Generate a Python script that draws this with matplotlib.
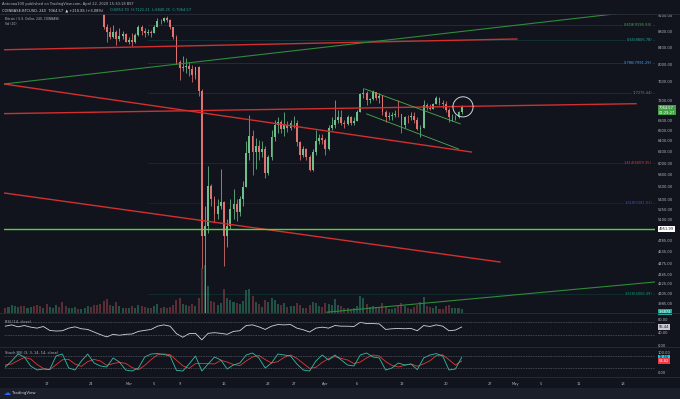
import matplotlib
matplotlib.use("Agg")
import matplotlib.pyplot as plt
import matplotlib.dates as mdates
from matplotlib.ticker import FixedLocator, NullLocator, FuncFormatter
import numpy as np
import pandas as pd

# ── Colours ───────────────────────────────────────────────────────────────────
BG = "#11141c"
STRIP = "#1b1f2a"
BORDER = "#2a2e39"
TXT = "#b2b5be"
UP = "#6dbf8b"
DOWN = "#e0736f"
RED = "#d32f2f"
GREEN_DARK = "#2e8b3a"
GREEN = "#4caf50"
TEAL = "#26a69a"

W, H = 680, 399

# ── 12h candles from 2020-02-10 12:00 (COINBASE BTCUSD) ──────────────────────
CANDLE_START = "2020-02-10 12:00"
OPEN0 = 10000
HIGH = [10050, 10000, 10300, 10400, 10450, 10500, 10400, 10350, 10400, 10380,
        10200, 10050, 10050, 9950, 9800, 9800, 10250, 10250, 10170, 9700,
        9650, 9700, 9800, 9720, 9700, 9800, 10000, 10000, 9850, 9680,
        9500, 9320, 8980, 8900, 8970, 8830, 8890, 8800, 8760, 8650,
        8750, 8750, 8950, 8970, 8880, 8850, 8820, 8950, 9150, 9130,
        9180, 9200, 9120, 8920, 8700, 8100, 8180, 8150, 8050, 7970,
        7940, 7960, 7450, 5300, 5950, 5650, 5450, 5400, 5900, 5380,
        5100, 5400, 5560, 5400, 5450, 5700, 6400, 6900, 6600, 6450,
        6420, 6400, 6300, 6150, 6600, 6800, 6850, 6800, 6950, 6780,
        6800, 6880, 6800, 6400, 6300, 6270, 6150, 6250, 6600, 6520,
        6520, 6450, 6700, 6850, 7200, 7000, 7000, 6800, 6900, 6880,
        6850, 7000, 7360, 7470, 7400, 7250, 7420, 7380, 7350, 7320,
        7000, 6950, 6950, 7000, 7200, 6910, 6870, 6900, 6950, 6950,
        6850, 6700, 7200, 7150, 7120, 7150, 7300, 7260, 7200, 7180,
        7050, 6920, 6900, 6980, 7101]
LOW = [9800, 9750, 9900, 10200, 10250, 10150, 10100, 10150, 10250, 10100,
       9850, 9650, 9800, 9450, 9500, 9600, 9700, 10050, 9400, 9450,
       9450, 9550, 9600, 9580, 9600, 9650, 9720, 9750, 9550, 9450,
       9250, 8850, 8530, 8600, 8620, 8450, 8560, 8600, 8520, 8470,
       8420, 8500, 8680, 8700, 8650, 8700, 8660, 8755, 8900, 9000,
       9030, 9050, 8850, 8600, 8000, 7640, 7850, 7800, 7730, 7600,
       7650, 7300, 4420, 3860, 4900, 5300, 5050, 5100, 5250, 4450,
       4700, 4950, 5100, 5070, 5150, 5300, 5600, 6050, 5800, 5900,
       6050, 6100, 5750, 5800, 6050, 6400, 6550, 6550, 6500, 6560,
       6600, 6650, 6300, 6050, 6100, 6050, 5860, 5870, 6150, 6350,
       6350, 6150, 6230, 6600, 6650, 6750, 6700, 6650, 6700, 6700,
       6700, 6780, 6950, 7250, 7100, 7150, 7200, 7200, 7150, 6900,
       6770, 6800, 6800, 6850, 6850, 6550, 6650, 6750, 6800, 6750,
       6600, 6470, 6640, 7000, 7000, 7020, 7120, 7100, 7050, 6950,
       6760, 6780, 6800, 6840, 6920]
CLOSE = [9850, 9950, 10270, 10320, 10350, 10300, 10240, 10280, 10370, 10150,
         9900, 9850, 9930, 9600, 9700, 9750, 10180, 10150, 9600, 9550,
         9600, 9650, 9690, 9650, 9670, 9750, 9970, 9800, 9660, 9500,
         9310, 8900, 8780, 8650, 8790, 8600, 8690, 8720, 8530, 8580,
         8520, 8700, 8915, 8800, 8760, 8790, 8755, 8920, 9070, 9060,
         9150, 9100, 8900, 8650, 8040, 7900, 7935, 7950, 7890, 7750,
         7935, 7400, 4860, 5000, 5620, 5400, 5170, 5300, 5360, 4850,
         5000, 5250, 5330, 5200, 5400, 5600, 6180, 6500, 6200, 6300,
         6190, 6250, 5830, 6100, 6480, 6700, 6770, 6620, 6700, 6650,
         6740, 6750, 6370, 6150, 6250, 6100, 5880, 6200, 6400, 6450,
         6420, 6250, 6640, 6700, 6800, 6850, 6740, 6730, 6860, 6750,
         6780, 6950, 7340, 7350, 7200, 7230, 7370, 7250, 7300, 6950,
         6860, 6880, 6890, 6920, 6910, 6700, 6860, 6850, 6870, 6800,
         6620, 6650, 7110, 7050, 7030, 7130, 7250, 7150, 7130, 7000,
         6850, 6850, 6850, 6950, 7064.57]
VOLUME = [9, 10, 14, 11, 10, 12, 11, 9, 10, 12,
          14, 11, 9, 15, 10, 9, 14, 10, 18, 12,
          9, 8, 10, 7, 6, 8, 11, 10, 14, 13,
          15, 20, 24, 14, 12, 18, 12, 8, 9, 9,
          11, 9, 14, 12, 10, 8, 8, 11, 15, 9,
          10, 8, 10, 14, 22, 25, 15, 14, 12, 15,
          12, 25, 75, 80, 45, 20, 18, 14, 16, 40,
          25, 22, 18, 16, 15, 20, 38, 40, 28, 18,
          15, 10, 22, 18, 25, 22, 15, 14, 16, 10,
          12, 12, 16, 14, 9, 8, 14, 18, 16, 12,
          10, 16, 15, 14, 24, 14, 12, 8, 9, 7,
          8, 12, 28, 25, 15, 10, 12, 10, 8, 16,
          12, 7, 6, 8, 12, 16, 12, 8, 7, 10,
          14, 18, 26, 12, 10, 8, 12, 7, 6, 12,
          14, 9, 8, 8, 6]

# ── Daily indicator readings from 2020-02-10 12:00 ───────────────────────────
IND_START = "2020-02-10 12:00"
RSI = [58, 62, 56, 60, 55, 52, 57,
       45, 43, 44, 52, 56, 50, 48, 40, 32, 25,
       33, 30, 33, 34, 42, 45, 48, 58, 62, 58,
       35, 24, 35, 36, 16, 36, 38, 36, 33, 42,
       44, 60, 62, 56, 48, 58, 63, 62, 63, 52,
       47, 40, 52, 55, 52, 60, 58, 58, 57, 70,
       66, 66, 65, 48, 50, 51, 50, 51, 44, 60,
       57, 62, 58, 44, 46, 55.44]
STOCH_K = [25, 55, 90, 75, 30, 10, 15,
           12, 80, 90, 20, 10, 55, 90, 45, 30, 25,
           70, 50, 10, 5, 20, 75, 90, 92, 88, 80,
           8, 5, 40, 80, 5, 40, 75, 60, 15, 35,
           45, 85, 95, 70, 20, 45, 90, 85, 80, 40,
           10, 5, 55, 85, 60, 85, 60, 35, 30, 85,
           95, 75, 70, 10, 20, 45, 35, 40, 12, 70,
           85, 92, 80, 10, 15, 72.56]
STOCH_D = [35, 40, 57, 73, 65, 38, 18,
           12, 36, 61, 63, 40, 28, 52, 63, 55, 33,
           42, 48, 43, 22, 12, 33, 62, 86, 90, 87,
           59, 31, 18, 42, 42, 42, 40, 58, 50, 37,
           32, 55, 75, 83, 62, 45, 52, 73, 85, 68,
           43, 18, 23, 48, 67, 77, 68, 60, 42, 50,
           70, 85, 80, 52, 33, 25, 33, 40, 29, 41,
           56, 82, 86, 61, 35, 54.82]

# ── Drawings (start date, start price, end date, end price) ───────────────────
RED_TRENDS = [
    ("2020-02-10 07:00", 8340, "2020-05-01 05:00", 8605),
    ("2020-02-10 07:00", 7550, "2020-04-24 01:00", 6196),
    ("2020-02-10 07:00", 6927, "2020-05-20 00:00", 7130),
    ("2020-02-10 07:00", 5501, "2020-04-28 13:00", 4501),
]
GREEN_TRENDS = [
    ("2020-02-10 07:00", 7550, "2020-05-23 00:00", 9380),
    ("2020-04-01 05:00", 3890, "2020-05-23 00:00", 4247),
]
CHANNEL = [
    ("2020-04-07 05:00", 7443, "2020-04-22 07:00", 6723),
    ("2020-04-07 12:00", 6922, "2020-04-22 00:00", 6251),
]
SUPPORT = 4951.99
CIRCLE_AT = ("2020-04-22 17:00", 7065)

FIB_LABELS = ["0.618(9195.93)", "0.65(8806.78)", "0.786(7991.29)", "1(7276.44)",
              "1.414(6009.35)", "1.618(5281.01)", "2.618(4066.49)"]
FIB_PRICES = [8962, 8581, 8025, 7354, 6000, 5341, 4102]
FIB_COLS = ["#4caf50", "#26a69a", "#42a5f5", "#787b86", "#e53935", "#3f51b5", "#089981"]

PRICE_TICKS = [9200, 8800, 8400, 8000, 7600, 7200, 6800, 6600, 6400, 6200, 6000,
               5800, 5600, 5400, 5250, 5100, 4785, 4635, 4475, 4345, 4225, 4105, 3985]
DATE_TICKS = ["2020-02-17", "2020-02-24", "2020-03-01", "2020-03-05", "2020-03-09",
              "2020-03-16", "2020-03-23", "2020-03-27", "2020-04-01", "2020-04-06",
              "2020-04-13", "2020-04-20", "2020-04-27", "2020-05-01", "2020-05-05",
              "2020-05-11", "2020-05-18"]
DATE_LABELS = ["17", "24", "Mar", "5", "9", "16", "23", "27", "Apr", "6", "13",
               "20", "27", "May", "5", "11", "18"]

FS = 2.6


def fig_rect(x0, y0, x1, y1):
    return [x0 / W, 1 - y1 / H, (x1 - x0) / W, (y1 - y0) / H]


def ftext(fig, x, y, s, **kw):
    kw.setdefault("fontsize", FS)
    kw.setdefault("color", TXT)
    kw.setdefault("va", "center")
    fig.text(x / W, 1 - y / H, s, **kw)


def dn(s):
    return mdates.date2num(pd.Timestamp(s))


def scale_box(ax, y, text, fc, tc):
    ax.text(1.006, y, text, transform=ax.get_yaxis_transform(), fontsize=FS,
            color=tc, ha="left", va="center", clip_on=False, zorder=10,
            bbox=dict(boxstyle="square,pad=0.25", fc=fc, ec="none"))


def clean(ax):
    ax.set_facecolor(BG)
    for s in ax.spines.values():
        s.set_visible(False)
    ax.tick_params(length=0, labelsize=FS, labelcolor=TXT, pad=2.2)


def main():
    fig = plt.figure(figsize=(6.8, 3.99), dpi=100, facecolor=BG)

    ax_v = fig.add_axes(fig_rect(4, 14, 655, 313))
    ax_p = fig.add_axes(fig_rect(4, 14, 655, 313), sharex=ax_v)
    ax_r = fig.add_axes(fig_rect(4, 313, 655, 347), sharex=ax_v)
    ax_s = fig.add_axes(fig_rect(4, 347, 655, 377), sharex=ax_v)
    for a in (ax_v, ax_p, ax_r, ax_s):
        clean(a)
    ax_p.set_facecolor("none")

    t = mdates.date2num(pd.date_range(CANDLE_START, periods=len(CLOSE), freq="12h"))
    c = np.array(CLOSE, dtype=float)
    o = np.array([OPEN0] + CLOSE[:-1], dtype=float)
    up = c >= o
    cols = np.where(up, UP, DOWN)

    # ── Volume ───────────────────────────────────────────────────────────────
    ax_v.bar(t, VOLUME, width=0.32, color=np.where(up, "#2f7a63", "#8a3f43"),
             alpha=0.6, zorder=1)
    ax_v.set_ylim(0, 500)
    ax_v.tick_params(left=False, labelleft=False, bottom=False, labelbottom=False)
    ax_v.text(1.006, 0.004, "3.6874", transform=ax_v.transAxes, fontsize=FS,
              color="white", va="center", ha="left", clip_on=False,
              bbox=dict(boxstyle="square,pad=0.25", fc=TEAL, ec="none"))

    # ── Price pane ───────────────────────────────────────────────────────────
    ax_p.set_yscale("log")
    ax_p.set_ylim(3881, 9253)
    ax_p.set_xlim(dn("2020-02-10 07:00"), dn("2020-05-23 00:00"))

    for lbl, pr, col in zip(FIB_LABELS, FIB_PRICES, FIB_COLS):
        ax_p.plot([dn("2020-03-04"), dn("2020-05-23")], [pr, pr], color=col,
                  lw=0.5, alpha=0.25, zorder=1)
        ax_p.text(0.9955, pr, lbl, transform=ax_p.get_yaxis_transform(),
                  fontsize=FS, color=col, ha="right", va="center", zorder=6,
                  bbox=dict(boxstyle="square,pad=0.15", fc=BG, ec="none"))

    ax_p.vlines(t, LOW, HIGH, colors=cols, lw=0.55, zorder=3)
    ax_p.bar(t, np.maximum(np.abs(c - o), 6), bottom=np.minimum(o, c),
             width=0.3, color=cols, zorder=3)

    for d0, p0, d1, p1 in RED_TRENDS:
        ax_p.plot([dn(d0), dn(d1)], [p0, p1], color=RED, lw=1.0, zorder=4)
    for d0, p0, d1, p1 in GREEN_TRENDS:
        ax_p.plot([dn(d0), dn(d1)], [p0, p1], color=GREEN_DARK, lw=0.8, zorder=4)
    for d0, p0, d1, p1 in CHANNEL:
        ax_p.plot([dn(d0), dn(d1)], [p0, p1], color=GREEN, lw=0.6, zorder=4)
    ax_p.axhline(SUPPORT, color="#5dd039", lw=1.0, zorder=4)
    ax_p.scatter([dn(CIRCLE_AT[0])], [CIRCLE_AT[1]], s=210, facecolors="none",
                 edgecolors="#d1d4dc", linewidths=0.7, zorder=5)

    ax_p.yaxis.tick_right()
    ax_p.yaxis.set_major_locator(FixedLocator(PRICE_TICKS))
    ax_p.yaxis.set_minor_locator(NullLocator())
    ax_p.yaxis.set_major_formatter(FuncFormatter(lambda v, p: f"{v:.2f}"))
    ax_p.tick_params(bottom=False, labelbottom=False)

    scale_box(ax_p, 6995, "7064.57\n01:29:27", "#43a047", "white")
    scale_box(ax_p, SUPPORT, "4951.99", "white", "#131722")

    # ── RSI pane ─────────────────────────────────────────────────────────────
    ti = mdates.date2num(pd.date_range(IND_START, periods=len(RSI), freq="D"))
    ax_r.plot(ti, RSI, color="#d1d4dc", lw=0.6)
    for lv in (70, 30):
        ax_r.axhline(lv, color="#787b86", lw=0.4, ls=(0, (1.5, 1.5)))
    ax_r.set_ylim(-6, 98.5)
    ax_r.yaxis.tick_right()
    ax_r.set_yticks([80, 40, 0])
    ax_r.yaxis.set_major_formatter(FuncFormatter(lambda v, p: f"{v:.2f}"))
    ax_r.tick_params(bottom=False, labelbottom=False)
    ax_r.text(0.002, 0.74, "RSI (14, close)", transform=ax_r.transAxes,
              fontsize=FS, color=TXT, va="center")
    scale_box(ax_r, RSI[-1], f"{RSI[-1]:.2f}", "#c8cad0", "#131722")

    # ── Stoch RSI pane ───────────────────────────────────────────────────────
    ax_s.plot(ti, STOCH_D, color="#e53935", lw=0.6)
    ax_s.plot(ti, STOCH_K, color="#2fbfa5", lw=0.6)
    for lv in (80, 20):
        ax_s.axhline(lv, color="#787b86", lw=0.4, ls=(0, (1.5, 1.5)))
    ax_s.set_ylim(-25, 125)
    ax_s.yaxis.tick_right()
    ax_s.set_yticks([100, 0])
    ax_s.yaxis.set_major_formatter(FuncFormatter(lambda v, p: f"{v:.2f}"))
    ax_s.text(0.002, 0.8, "Stoch RSI (3, 3, 14, 14, close)", transform=ax_s.transAxes,
              fontsize=FS, color=TXT, va="center")
    scale_box(ax_s, STOCH_K[-1], f"{STOCH_K[-1]:.2f}", "#00d4e6", "#131722")
    scale_box(ax_s, STOCH_D[-1], f"{STOCH_D[-1]:.2f}", "#f23645", "white")

    ax_s.set_xticks([dn(d) for d in DATE_TICKS])
    ax_s.set_xticklabels(DATE_LABELS)
    ax_s.tick_params(axis="x", pad=3.5)

    # ── Frame, separators, header, footer ────────────────────────────────────
    for yy in (14, 313, 347, 377):
        fig.add_artist(plt.Line2D([0, 1], [1 - yy / H] * 2, color=BORDER, lw=0.6))
    fig.add_artist(plt.Rectangle((0, 0), 1, 11 / H, color=STRIP, lw=0))

    ftext(fig, 2, 4, "Antonaa100 published on TradingView.com, April 22, 2020 15:30:18 BST")
    ftext(fig, 2, 10, "COINBASE:BTCUSD, 240  7064.57  \u25b2 +210.85 (+3.08%)", color="#d1d4dc")
    ftext(fig, 110, 10, "O:6853.70  H:7121.21  L:6840.25  C:7064.57", color=TEAL)
    ftext(fig, 5, 19, "Bitcoin / U.S. Dollar, 240, COINBASE", fontsize=2.2)
    ftext(fig, 5, 24, "Vol (20)", fontsize=2.2)
    ftext(fig, 4, 393, "\u2601", fontsize=5, color="#2962ff")
    ftext(fig, 12, 393, "TradingView", fontsize=2.8, color="#d1d4dc")

    plt.savefig("out.png", dpi=100, facecolor=fig.get_facecolor())


if __name__ == "__main__":
    main()
